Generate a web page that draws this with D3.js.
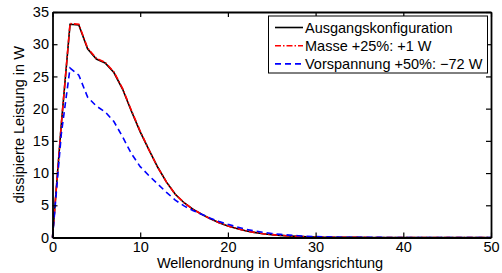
<!DOCTYPE html>
<html lang="de">
<head>
<meta charset="UTF-8">
<script src="https://cdnjs.cloudflare.com/ajax/libs/d3/7.8.5/d3.min.js"></script>
<style>
    body { margin: 0; background: #fff; }
    svg { font-family: 'Liberation Sans', Arial, sans-serif; }
    .tick text { font-size: 14.5px; fill: #000; }
    .tick line, .domain { stroke: #000; }
</style>
</head>
<body>
<svg id="chart"></svg>
<script>
    // Wellenordnung (x) und dissipierte Leistung in W
    const ordnung = d3.range(0, 51)

    const ausgang = [0, 17.5, 33.1, 33.0, 29.3, 27.7, 27.1, 25.6, 23.0, 19.6,
        16.4, 13.6, 10.9, 8.6, 6.7, 5.4, 4.4, 3.6, 2.9, 2.3,
        1.8, 1.4, 1.05, 0.8, 0.58, 0.44, 0.33, 0.24, 0.17, 0.12,
        0.08, 0.05, 0.04, 0.03, 0.02, 0.02, 0.01, 0.01, 0.01, 0.01,
        0.01, 0, 0, 0, 0, 0, 0, 0, 0, 0, 0]

    const masse = [0, 17.5, 33.2, 33.1, 29.4, 27.8, 27.2, 25.7, 23.1, 19.7,
        16.5, 13.6, 10.9, 8.6, 6.7, 5.4, 4.4, 3.6, 2.9, 2.3,
        1.8, 1.4, 1.05, 0.8, 0.58, 0.44, 0.33, 0.24, 0.17, 0.12,
        0.08, 0.05, 0.04, 0.03, 0.02, 0.02, 0.01, 0.01, 0.01, 0.01,
        0.01, 0, 0, 0, 0, 0, 0, 0, 0, 0, 0]

    const vorspannung = [0, 16.0, 26.3, 25.2, 21.8, 20.4, 19.5, 18.0, 15.6, 13.0,
        11.0, 9.6, 8.3, 7.0, 5.8, 4.9, 4.2, 3.6, 3.0, 2.5,
        2.05, 1.65, 1.3, 1.02, 0.8, 0.62, 0.48, 0.37, 0.28, 0.2,
        0.14, 0.1, 0.07, 0.05, 0.04, 0.03, 0.02, 0.02, 0.01, 0.01,
        0.01, 0.01, 0, 0, 0, 0, 0, 0, 0, 0, 0]

    const legendNames = ['Ausgangskonfiguration', 'Masse +25%: +1 W', 'Vorspannung +50%: \u221272 W']
    const xTicks = [0, 10, 20, 30, 40, 50]
    const yTicks = [0, 5, 10, 15, 20, 25, 30, 35]

    const W = 502, H = 273
    const margin = { top: 12, right: 11, bottom: 35.5, left: 52.5 }

    const svg = d3.select('#chart').attr('width', W).attr('height', H)

    const x = d3.scaleLinear().domain([0, 50]).range([margin.left, W - margin.right])
    const y = d3.scaleLinear().domain([0, 35]).range([H - margin.bottom, margin.top])

    const series = [
        { values: ausgang, color: '#000', dash: null },
        { values: masse, color: '#ff0000', dash: '6,2,1.5,2' },
        { values: vorspannung, color: '#0000ff', dash: '6,4' }
    ]

    const line = d3.line().x((d, i) => x(ordnung[i])).y(d => y(d))

    svg.selectAll('path.serie')
        .data(series)
        .enter()
        .append('path')
        .attr('class', 'serie')
        .attr('d', d => line(d.values))
        .attr('fill', 'none')
        .attr('stroke', d => d.color)
        .attr('stroke-width', 1.6)
        .attr('stroke-dasharray', d => d.dash)

    // axes (box with inward ticks)
    const bottom = svg.append('g')
        .attr('transform', 'translate(0,' + y(0) + ')')
        .call(d3.axisBottom(x).tickValues(xTicks).tickSizeInner(-5).tickSizeOuter(0).tickPadding(4.5))
    const left = svg.append('g')
        .attr('transform', 'translate(' + x(0) + ',0)')
        .call(d3.axisLeft(y).tickValues(yTicks).tickSizeInner(-5).tickSizeOuter(0).tickPadding(3.5))
    svg.append('g')
        .attr('transform', 'translate(0,' + y(35) + ')')
        .call(d3.axisTop(x).tickValues(xTicks).tickSizeInner(-5).tickSizeOuter(0).tickFormat(''))
    svg.append('g')
        .attr('transform', 'translate(' + x(50) + ',0)')
        .call(d3.axisRight(y).tickValues(yTicks).tickSizeInner(-5).tickSizeOuter(0).tickFormat(''))

    svg.selectAll('.domain').attr('stroke-width', 1.8)
    svg.selectAll('.tick line').attr('stroke-width', 1.2)
    bottom.selectAll('text').attr('dy', '0.71em')

    // axis titles
    svg.append('text')
        .attr('x', 270)
        .attr('y', 267.5)
        .attr('text-anchor', 'middle')
        .attr('font-size', '14.5px')
        .text('Wellenordnung in Umfangsrichtung')

    svg.append('text')
        .attr('transform', 'translate(24,' + ((y(0) + y(35)) / 2) + ') rotate(-90)')
        .attr('text-anchor', 'middle')
        .attr('font-size', '14.5px')
        .text('dissipierte Leistung in W')

    // legend
    const legend = svg.append('g')
    legend.append('rect')
        .attr('x', 268.5).attr('y', 16)
        .attr('width', 219).attr('height', 57)
        .attr('fill', '#fff').attr('stroke', '#000').attr('stroke-width', 1)

    series.forEach((s, i) => {
        const ly = 27.5 + i * 18.2
        legend.append('line')
            .attr('x1', 275).attr('x2', 303)
            .attr('y1', ly).attr('y2', ly)
            .attr('stroke', s.color)
            .attr('stroke-width', 1.6)
            .attr('stroke-dasharray', s.dash)
        legend.append('text')
            .attr('x', 305).attr('y', ly + 5)
            .attr('font-size', '14.5px')
            .text(legendNames[i])
    })
</script>
</body>
</html>
